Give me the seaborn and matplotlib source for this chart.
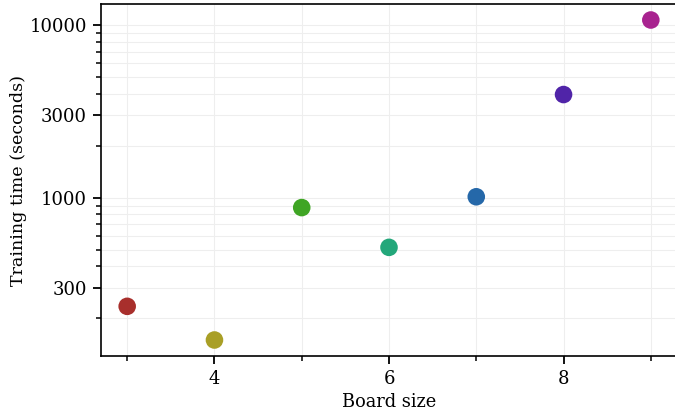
import numpy as np
import pandas as pd
import seaborn as sns
import matplotlib.pyplot as plt
from matplotlib.ticker import FixedLocator, FixedFormatter, LogLocator, NullFormatter, MultipleLocator

board_size = [3, 4, 5, 6, 7, 8, 9]
train_time = [235, 150, 877, 516, 1013, 3960, 10700]
colors = ["#a82f2c", "#a99f26", "#3fa524", "#23a77a", "#2568a9", "#5024a8", "#a8238f"]
ytick_vals = [300, 1000, 3000, 10000]
ytick_labels = ["300", "1000", "3000", "10000"]

sns.set_theme(style="ticks", rc={'text.color': 'black', 'axes.labelcolor': 'black',
                                 'xtick.color': 'black', 'ytick.color': 'black',
                                 'axes.edgecolor': 'black'})
plt.rcParams['font.family'] = ['DejaVu Serif']

df = pd.DataFrame({'board': board_size, 'time': train_time})

fig = plt.figure(figsize=(6.75, 4.18), dpi=100)
ax = fig.add_axes([101 / 675, 62 / 418, 576 / 675, 352 / 418])

sns.scatterplot(data=df, x='board', y='time', hue='board', palette=colors,
                s=160, linewidth=0, legend=False, ax=ax, zorder=3)
ax.set_yscale('log')

# ticks
ax.xaxis.set_major_locator(MultipleLocator(2))
ax.xaxis.set_minor_locator(MultipleLocator(1))
ax.yaxis.set_major_locator(FixedLocator(ytick_vals))
ax.yaxis.set_major_formatter(FixedFormatter(ytick_labels))
ax.yaxis.set_minor_locator(LogLocator(base=10, subs=np.arange(1, 10)))
ax.yaxis.set_minor_formatter(NullFormatter())
ax.tick_params(which='major', length=6, width=1.3, labelsize=13, pad=4)
ax.tick_params(which='minor', length=3.5, width=1.1)

ax.grid(True, which='both', color='#eeeeee', linewidth=0.8, zorder=0)
ax.set_axisbelow(True)

ax.set_xlabel('Board size', fontsize=12.8, labelpad=4)
ax.set_ylabel('Training time (seconds)', fontsize=12.6, labelpad=2)

for s in ax.spines.values():
    s.set_linewidth(1.2)

fig.savefig('out.png', dpi=100)
